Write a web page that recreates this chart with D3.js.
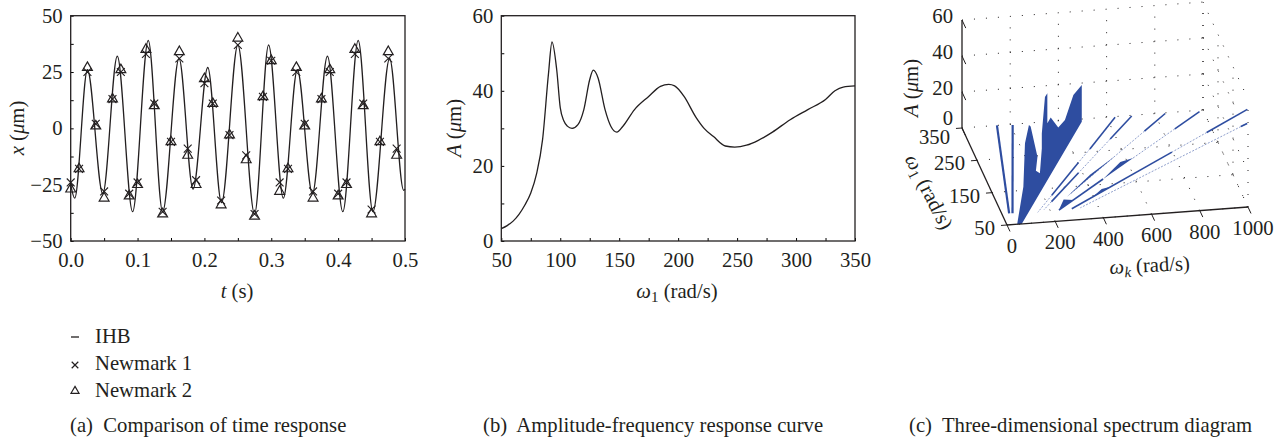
<!DOCTYPE html>
<html>
<head>
<meta charset="utf-8">
<script src="https://cdn.jsdelivr.net/npm/d3@7"></script>
<style>
body { margin: 0; background: #fff; }
text { font-family: "Liberation Serif", serif; font-size: 20.7px; fill: #231f20; }
</style>
</head>
<body>
<svg id="chart" width="1283" height="441"></svg>
<script>
// (a) time response
var curveT = [0, 0.006, 0.025, 0.048, 0.0697, 0.0926, 0.116, 0.1375, 0.162, 0.183, 0.205, 0.2256, 0.25, 0.275, 0.296, 0.318, 0.339, 0.3615, 0.384, 0.407, 0.43, 0.452, 0.477, 0.498, 0.5];
var curveX = [-25, -31, 26, -29, 32, -37, 39, -37, 31, -27, 27, -33, 37, -38, 37, -31, 26, -29, 32, -37, 39, -37, 31, -27.5, -27];
var markT = [0, 0.0125, 0.025, 0.0375, 0.05, 0.0625, 0.075, 0.0875, 0.1, 0.1125, 0.125, 0.1375, 0.15, 0.1625, 0.175, 0.1875, 0.2, 0.2125, 0.225, 0.2375, 0.25, 0.2625, 0.275, 0.2875, 0.3, 0.3125, 0.325, 0.3375, 0.35, 0.3625, 0.375, 0.3875, 0.4, 0.4125, 0.425, 0.4375, 0.45, 0.4625, 0.475, 0.4875];
var newmark1 = [-24, -18, 25, 2, -28, 13, 25, -29, -24, 33, 11, -37, -6, 31, -9, -23, 20, 11, -32, -3, 37, -12, -38, 14, 30, -24, -18, 25, 2, -28, 13, 25, -29, -24, 33, 11, -36, -6, 31, -9];
var newmark2 = [-27, -18, 27, 1, -31, 13, 26, -30, -25, 35, 10, -38, -6, 34, -12, -25, 22, 11, -34, -3, 40, -14, -39, 14, 30, -28, -18, 27, 1, -31, 13, 26, -30, -25, 35, 10, -38, -6, 34, -12];

// (b) amplitude-frequency curve
var ampW = [50, 55, 60, 65, 70, 75, 80, 85, 90, 93, 97, 100, 103, 106, 110, 115, 120, 125, 128, 132, 138, 143, 148, 153, 163, 175, 185, 192, 197, 205, 215, 222, 230, 240, 248, 258, 268, 280, 295, 310, 325, 333, 340, 350];
var ampA = [3.3, 4.1, 5.3, 7.1, 9.6, 12.8, 18, 27, 44.5, 53, 45.6, 35.5, 32, 30.6, 30, 31, 35, 43, 45.5, 43.5, 35, 30.5, 29, 30.5, 35, 38.5, 41.2, 41.7, 41.3, 38.5, 33, 30, 27.8, 25.3, 25, 25.5, 26.8, 29, 32.3, 35, 37.7, 40, 41, 41.3];

// (c) spectrum, [wk, w1] or [wk, w1, A]
var lowRidges = [[145, 350, 30, 84], [209, 348, 44, 84]];
var ridges = [[634, 348, 474, 259], [403, 221, 235, 129], [703, 348, 574, 284], [384, 190, 222, 110], [842, 348, 726, 300], [983, 346, 852, 300], [471, 166, 236, 83], [1179, 342, 973, 282], [797, 231, 290, 84], [1152, 300, 1121, 292]];
var faintRidges = [[474, 259, 403, 221], [235, 129, 147, 81], [574, 284, 384, 190], [222, 110, 176, 87], [726, 300, 315, 130], [852, 300, 630, 222], [973, 282, 797, 231], [1152, 300, 326, 85]];
var humpC = [2.42, 2.84, 3.45, 2.84];
var humpW = [[120, 175, 231], [166, 198, 222], [115, 128, 142], [83, 92, 110]];
var humpA = [1.3, 2.8, 1.6, 4];
var massOutline = [[61, 50, 0], [492, 342, 0], [492, 342, 20.4], [459, 345, 14.6], [424, 345, 1.1], [387, 330, 0], [365, 345, 3.1], [351, 345, 0], [351, 345, 16.7], [338, 340, 15.7], [310, 316, 0], [282, 271, 0], [228, 197, 0], [217, 206, 0], [249, 247, 0], [278, 339, 0], [274, 344, 0], [224, 290, 0], [137, 161, 0], [43, 51, 0]];

var kTicks = [0, 200, 400, 600, 800, 1000];
var wTicks = [50, 150, 250, 350];
var aTicks = [0, 20, 40, 60];

var svg = d3.select("#chart");

function frame(g, x, y, xTicks, xMinor, yTicks, yMinor, xFmt) {
  var r = x.range(), b = y.range();
  g.append("g").attr("transform", "translate(0," + b[0] + ")")
    .call(d3.axisBottom(x).tickValues(xMinor).tickSize(-3).tickFormat(""))
    .call(s => s.select(".domain").remove());
  g.append("g").attr("transform", "translate(" + r[0] + ",0)")
    .call(d3.axisLeft(y).tickValues(yMinor).tickSize(-3).tickFormat(""))
    .call(s => s.select(".domain").remove());
  g.append("g").attr("transform", "translate(0," + b[0] + ")")
    .call(d3.axisBottom(x).tickValues(xTicks).tickSize(0).tickPadding(11).tickFormat(xFmt))
    .call(s => s.select(".domain").remove());
  g.append("g").attr("transform", "translate(" + r[0] + ",0)")
    .call(d3.axisLeft(y).tickValues(yTicks).tickSize(0).tickPadding(8).tickFormat(d => d < 0 ? "\u2212" + (-d) : d))
    .call(s => s.select(".domain").remove());
  g.selectAll("text").attr("font-family", null).attr("font-size", null).style("fill", "#231f20");
  g.append("rect").attr("x", r[0]).attr("y", b[1]).attr("width", r[1] - r[0]).attr("height", b[0] - b[1])
    .attr("fill", "none").attr("stroke", "#231f20").attr("stroke-width", 1.3);
}

function label(x, y, parts, rot) {
  var t = svg.append("text").attr("text-anchor", "middle")
    .attr("transform", "translate(" + x + "," + y + ")" + (rot ? " rotate(" + rot + ")" : ""));
  parts.forEach(p => {
    var s = t.append("tspan").text(p[0]);
    if (p[1] == "i") s.style("font-style", "italic");
    if (p[1] == "sub") s.attr("dy", 4).style("font-size", "15px");
    if (p[1] == "isub") s.attr("dy", 4).style("font-size", "15px").style("font-style", "italic");
    if (p[1] == "up") s.attr("dy", -4);
  });
  return t;
}

// --- plot a
var xA = d3.scaleLinear().domain([0, 0.5]).range([70.7, 405]);
var yA = d3.scaleLinear().domain([-50, 50]).range([241, 15.7]);
var gA = svg.append("g");
frame(gA, xA, yA, [0, 0.1, 0.2, 0.3, 0.4, 0.5], d3.range(0, 0.51, 0.05), [-50, -25, 0, 25, 50], d3.range(-50, 51, 12.5), d3.format(".1f"));

gA.append("path").datum(curveT.map((d, i) => [d, curveX[i]]))
  .attr("fill", "none").attr("stroke", "#231f20").attr("stroke-width", 1.3)
  .attr("d", d3.line().x(d => xA(d[0])).y(d => yA(d[1])).curve(d3.curveMonotoneX));

var crossPath = d3.symbol(d3.symbolX, 42)();
var triPath = d3.symbol(d3.symbolTriangle, 42)();
gA.selectAll(".m1").data(markT).join("path").attr("class", "m1")
  .attr("transform", (d, i) => "translate(" + xA(d) + "," + yA(newmark1[i]) + ")")
  .attr("d", crossPath).attr("fill", "none").attr("stroke", "#231f20").attr("stroke-width", 1.1);
gA.selectAll(".m2").data(markT).join("path").attr("class", "m2")
  .attr("transform", (d, i) => "translate(" + xA(d) + "," + yA(newmark2[i]) + ")")
  .attr("d", triPath).attr("fill", "none").attr("stroke", "#231f20").attr("stroke-width", 1.2);

label(237, 298, [["t", "i"], [" (s)"]]);
label(24, 128, [["x", "i"], [" ("], ["\u03bc", "i"], ["m)"]], -90);

// legend
svg.append("line").attr("x1", 71).attr("x2", 79).attr("y1", 337).attr("y2", 337).attr("stroke", "#231f20").attr("stroke-width", 1.3);
svg.append("path").attr("transform", "translate(75,365)").attr("d", d3.symbol(d3.symbolX, 30)()).attr("fill", "none").attr("stroke", "#231f20").attr("stroke-width", 1.2);
svg.append("path").attr("transform", "translate(75,391)").attr("d", d3.symbol(d3.symbolTriangle, 28)()).attr("fill", "none").attr("stroke", "#231f20").attr("stroke-width", 1.2);
svg.append("text").attr("x", 95).attr("y", 342.5).text("IHB");
svg.append("text").attr("x", 95).attr("y", 370).text("Newmark 1");
svg.append("text").attr("x", 95).attr("y", 397).text("Newmark 2");

// --- plot b
var xB = d3.scaleLinear().domain([50, 350]).range([501.3, 855]);
var yB = d3.scaleLinear().domain([0, 60]).range([241, 15.7]);
var gB = svg.append("g");
frame(gB, xB, yB, d3.range(50, 351, 50), d3.range(50, 351, 25), [0, 20, 40, 60], d3.range(0, 61, 10), d => d);

gB.append("path").datum(ampW.map((d, i) => [d, ampA[i]]))
  .attr("fill", "none").attr("stroke", "#231f20").attr("stroke-width", 1.3)
  .attr("d", d3.line().x(d => xB(d[0])).y(d => yB(d[1])).curve(d3.curveMonotoneX));

label(677, 298, [["\u03c9", "i"], ["1", "sub"], [" (rad/s)", "up"]]);
label(461, 128, [["A", "i"], [" ("], ["\u03bc", "i"], ["m)"]], -90);

// --- plot c: oblique projection of (wk, w1, A)
var kX = d3.scaleLinear().domain([0, 1000]).range([0, 241]);
var kY = d3.scaleLinear().domain([0, 1000]).range([0, -18]);
var wX = d3.scaleLinear().domain([50, 350]).range([1007, 962]);
var wY = d3.scaleLinear().domain([50, 350]).range([225, 128]);
var aY = d3.scaleLinear().domain([0, 60]).range([0, -108]);
function px(k, w, a) { return [kX(k) + wX(w), kY(k) + wY(w) + aY(a || 0)]; }
var line3 = d3.line();
function seg(p, q) { return line3([px(p[0], p[1], p[2]), px(q[0], q[1], q[2])]); }

var gC = svg.append("g");
var gridSegs = [];
aTicks.forEach(a => {
  gridSegs.push([[0, 350, a], [1000, 350, a]]);
  gridSegs.push([[1000, 350, a], [1000, 50, a]]);
});
kTicks.forEach(k => {
  if (k > 0) gridSegs.push([[k, 350, 0], [k, 350, 60]]);
  if (k > 0) gridSegs.push([[k, 50, 0], [k, 350, 0]]);
});
wTicks.forEach(w => {
  gridSegs.push([[1000, w, 0], [1000, w, 60]]);
  if (w < 350) gridSegs.push([[0, w, 0], [1000, w, 0]]);
});
gC.selectAll(".grid").data(gridSegs).join("path").attr("class", "grid")
  .attr("d", d => seg(d[0], d[1])).attr("fill", "none").attr("stroke", "#231f20")
  .attr("stroke-width", 1).attr("stroke-dasharray", "1 11");

var blue = "#2e4da0";
gC.selectAll(".low").data(lowRidges).join("path").attr("class", "low")
  .attr("d", d => seg([d[0], d[1]], [d[2], d[3]])).attr("stroke", blue).attr("stroke-width", 2.2);
gC.selectAll(".ridge").data(ridges).join("path").attr("class", "ridge")
  .attr("d", d => seg([d[0], d[1]], [d[2], d[3]])).attr("stroke", blue).attr("stroke-width", 1.6);
gC.selectAll(".faint").data(faintRidges).join("path").attr("class", "faint")
  .attr("d", d => seg([d[0], d[1]], [d[2], d[3]])).attr("stroke", blue).attr("stroke-width", 0.9)
  .attr("stroke-opacity", 0.6).attr("stroke-dasharray", "2 1.5");

// thicker parts of the ridges
humpC.forEach((c, i) => {
  var w = humpW[i];
  var pts = [px(c * w[0], w[0], 0), px(c * w[1], w[1], humpA[i]), px(c * w[2], w[2], 0), px(c * w[1], w[1], 0)];
  gC.append("path").attr("d", d3.line()(pts) + "Z").attr("fill", blue);
});

gC.append("path").attr("d", d3.line()(massOutline.map(d => px(d[0], d[1], d[2]))) + "Z").attr("fill", blue);

// axes of the 3d box
[[[0, 50], [1000, 50]], [[0, 50], [0, 350]]].forEach(d => {
  gC.append("path").attr("d", seg(d[0], d[1])).attr("stroke", "#231f20").attr("stroke-width", 1.3);
});
gC.append("path").attr("d", seg([0, 350, 0], [0, 350, 60])).attr("stroke", "#231f20").attr("stroke-width", 1.3);

kTicks.forEach(k => {
  gC.append("path").attr("d", seg([k, 50], [k, 30])).attr("stroke", "#231f20");
  var p = px(k, 50);
  gC.append("text").attr("x", p[0] + 5).attr("y", p[1] + 28).attr("text-anchor", "middle").text(k);
});
wTicks.forEach(w => {
  gC.append("path").attr("d", seg([0, w], [-25, w])).attr("stroke", "#231f20");
  var p = px(0, w);
  gC.append("text").attr("x", p[0] - 12).attr("y", p[1] + (w == 350 ? 16 : 10)).attr("text-anchor", "end").text(w);
});
aTicks.forEach(a => {
  gC.append("path").attr("d", seg([0, 350, a], [0, 325, a])).attr("stroke", "#231f20");
  var p = px(0, 350, a);
  gC.append("text").attr("x", p[0] - 9).attr("y", p[1] + (a == 0 ? -3 : 3)).attr("text-anchor", "end").text(a);
});

label(1150, 272, [["\u03c9", "i"], ["k", "isub"], [" (rad/s)", "up"]], -3);
label(923, 195, [["\u03c9", "i"], ["1", "sub"], [" (rad/s)", "up"]], 63);
label(918, 88, [["A", "i"], [" ("], ["\u03bc", "i"], ["m)"]], -90);

// captions
svg.append("text").attr("x", 70).attr("y", 431.5).text("(a)\u00a0 Comparison of time response");
svg.append("text").attr("x", 483).attr("y", 431.5).text("(b)\u00a0 Amplitude-frequency response curve");
svg.append("text").attr("x", 909).attr("y", 431.5).text("(c)\u00a0 Three-dimensional spectrum diagram");
</script>
</body>
</html>
